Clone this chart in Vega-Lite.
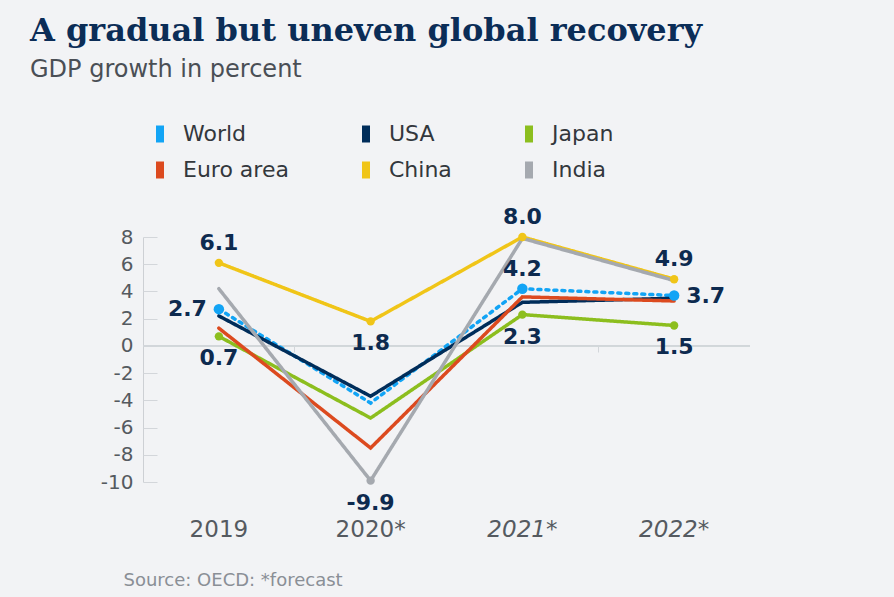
{
  "$schema": "https://vega.github.io/schema/vega-lite/v6.json",
  "width": 607,
  "height": 245,
  "autosize": "none",
  "padding": {"left": 143, "top": 237, "right": 144, "bottom": 115},
  "background": "#f2f3f5",
  "title": {
    "text": "A gradual but uneven global recovery",
    "subtitle": "GDP growth in percent",
    "anchor": "start",
    "frame": "group",
    "dx": -113,
    "offset": 40,
    "font": "DejaVu Serif",
    "fontSize": 32,
    "fontWeight": "bold",
    "color": "#0b2d57",
    "subtitleFont": "DejaVu Sans",
    "subtitleFontSize": 24,
    "subtitleColor": "#4a4f55",
    "subtitlePadding": 10
  },
  "datasets": {
    "gdp": [
      {"country": "World", "year": "2019", "value": 2.7},
      {"country": "World", "year": "2020*", "value": -4.2},
      {"country": "World", "year": "2021*", "value": 4.2},
      {"country": "World", "year": "2022*", "value": 3.7},
      {"country": "USA", "year": "2019", "value": 2.2},
      {"country": "USA", "year": "2020*", "value": -3.7},
      {"country": "USA", "year": "2021*", "value": 3.2},
      {"country": "USA", "year": "2022*", "value": 3.5},
      {"country": "Japan", "year": "2019", "value": 0.7},
      {"country": "Japan", "year": "2020*", "value": -5.3},
      {"country": "Japan", "year": "2021*", "value": 2.3},
      {"country": "Japan", "year": "2022*", "value": 1.5},
      {"country": "Euro area", "year": "2019", "value": 1.3},
      {"country": "Euro area", "year": "2020*", "value": -7.5},
      {"country": "Euro area", "year": "2021*", "value": 3.6},
      {"country": "Euro area", "year": "2022*", "value": 3.3},
      {"country": "China", "year": "2019", "value": 6.1},
      {"country": "China", "year": "2020*", "value": 1.8},
      {"country": "China", "year": "2021*", "value": 8.0},
      {"country": "China", "year": "2022*", "value": 4.9},
      {"country": "India", "year": "2019", "value": 4.2},
      {"country": "India", "year": "2020*", "value": -9.9},
      {"country": "India", "year": "2021*", "value": 7.9},
      {"country": "India", "year": "2022*", "value": 4.8}
    ]
  },
  "data": {"name": "gdp"},
  "layer": [
    {
      "mark": {"type": "rule", "color": "#d3d6da", "strokeWidth": 1},
      "encoding": {"y": {"datum": 0, "type": "quantitative", "axis": null}}
    },
    {
      "mark": {"type": "line", "strokeWidth": 3.5, "strokeCap": "round"},
      "encoding": {
        "x": {
          "field": "year", "type": "ordinal",
          "sort": ["2019", "2020*", "2021*", "2022*"],
          "scale": {"type": "band", "paddingInner": 0, "paddingOuter": 0},
          "axis": {
            "orient": "bottom", "domain": false, "ticks": false, "labelAngle": 0,
            "labelPadding": 36, "labelFontSize": 23, "labelColor": "#555a60",
            "labelFontStyle": {"condition": {"test": "datum.label == '2021*' || datum.label == '2022*'", "value": "italic"}, "value": "normal"},
            "title": "Source: OECD: *forecast",
            "titleX": -20, "titleY": 103, "titleAlign": "left", "titleAnchor": "start",
            "titleBaseline": "alphabetic", "titleFontSize": 18, "titleFontWeight": "normal",
            "titleColor": "#8a8f96"
          }
        },
        "y": {
          "field": "value", "type": "quantitative",
          "scale": {"domain": [-10, 8], "nice": false, "zero": false},
          "axis": {"orient": "left", "ticks": false}
        },
        "color": {"field": "country", "type": "nominal",
          "scale": {
            "domain": ["World", "USA", "Japan", "Euro area", "China", "India"],
            "range": ["#12a4f5", "#002d5a", "#8cbe1e", "#dc4a1f", "#f0c518", "#a5a9af"]
          },
          "legend": {
            "orient": "none", "legendX": 6, "legendY": -114, "columns": 3, "direction": "horizontal",
            "columnPadding": 66, "rowPadding": 14, "title": null,
            "symbolType": "M-0.47,-1H0.47V1H-0.47Z", "symbolSize": 289, "symbolStrokeWidth": 0,
            "symbolOpacity": 1,
            "labelFontSize": 22, "labelColor": "#33373c", "labelOffset": 12
          }
        },
        "strokeDash": {"condition": {"test": "datum.country == 'World'", "value": [3, 5]}, "value": [1, 0]}
      }
    },
    {
      "transform": [{"filter": "(datum.country == 'China') || (datum.country == 'World' && datum.year != '2020*') || (datum.country == 'Japan' && datum.year != '2020*') || (datum.country == 'India' && datum.year == '2020*')"}],
      "mark": {"type": "circle", "opacity": 1},
      "encoding": {
        "x": {"field": "year", "type": "ordinal", "sort": ["2019", "2020*", "2021*", "2022*"],
          "axis": {"orient": "bottom", "offset": -136, "labels": false, "domain": false, "ticks": true,
            "bandPosition": 0, "tickSize": 6, "tickColor": "#d3d6da", "title": null}},
        "y": {"field": "value", "type": "quantitative",
          "axis": {"orient": "right", "offset": -607, "labels": false, "domain": false, "ticks": true, "tickSize": 14}},
        "color": {"field": "country", "type": "nominal"},
        "size": {"condition": {"test": "datum.country == 'World'", "value": 110}, "value": 70}
      }
    },
    {
      "transform": [{"filter": "(datum.country == 'China' && datum.year != '2020*') || (datum.country == 'World' && datum.year == '2021*')"}],
      "mark": {"type": "text", "dy": -8, "baseline": "bottom", "fontWeight": "bold", "fontSize": 22, "color": "#0d2a4f"},
      "encoding": {
        "x": {"field": "year", "type": "ordinal", "sort": ["2019", "2020*", "2021*", "2022*"], "axis": null},
        "y": {"field": "value", "type": "quantitative", "axis": null},
        "text": {"field": "value", "type": "quantitative", "format": ".1f"}
      }
    },
    {
      "transform": [{"filter": "(datum.country == 'China' && datum.year == '2020*') || (datum.country == 'India' && datum.year == '2020*') || (datum.country == 'Japan' && datum.year != '2020*')"}],
      "mark": {"type": "text", "dy": 12, "baseline": "top", "fontWeight": "bold", "fontSize": 22, "color": "#0d2a4f"},
      "encoding": {
        "x": {"field": "year", "type": "ordinal", "sort": ["2019", "2020*", "2021*", "2022*"], "axis": null},
        "y": {"field": "value", "type": "quantitative", "axis": null},
        "text": {"field": "value", "type": "quantitative", "format": ".1f"}
      }
    },
    {
      "transform": [{"filter": "datum.country == 'World' && datum.year == '2019'"}],
      "mark": {"type": "text", "dx": -12, "align": "right", "baseline": "middle", "fontWeight": "bold", "fontSize": 22, "color": "#0d2a4f"},
      "encoding": {
        "x": {"field": "year", "type": "ordinal", "sort": ["2019", "2020*", "2021*", "2022*"], "axis": null},
        "y": {"field": "value", "type": "quantitative", "axis": null},
        "text": {"field": "value", "type": "quantitative", "format": ".1f"}
      }
    },
    {
      "transform": [{"filter": "datum.country == 'World' && datum.year == '2022*'"}],
      "mark": {"type": "text", "dx": 12, "align": "left", "baseline": "middle", "fontWeight": "bold", "fontSize": 22, "color": "#0d2a4f"},
      "encoding": {
        "x": {"field": "year", "type": "ordinal", "sort": ["2019", "2020*", "2021*", "2022*"], "axis": null},
        "y": {"field": "value", "type": "quantitative", "axis": null},
        "text": {"field": "value", "type": "quantitative", "format": ".1f"}
      }
    }
  ],
  "resolve": {"axis": {"x": "independent", "y": "independent"}},
  "config": {
    "font": "DejaVu Sans",
    "view": {"stroke": null},
    "axisY": {
      "values": [-10, -8, -6, -4, -2, 0, 2, 4, 6, 8],
      "domain": true, "domainColor": "#cdd0d4",
      "tickColor": "#d3d6da",
      "grid": false, "labelPadding": 10, "labelFontSize": 20, "labelOverlap": false,
      "labelColor": "#555a60", "title": null
    },
    "locale": {"number": {"decimal": ".", "thousands": ",", "grouping": [3], "currency": ["", ""], "minus": "-"}}
  }
}
